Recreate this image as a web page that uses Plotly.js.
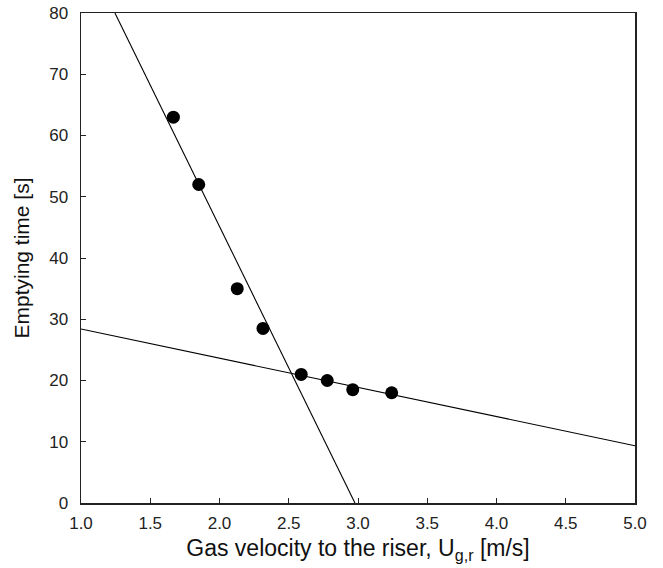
<!DOCTYPE html>
<html>
<head>
<meta charset="utf-8">
<script src="https://cdn.plot.ly/plotly-3.0.1.min.js"></script>
<style>
  html, body { margin: 0; padding: 0; background: #fff; }
  #chart { width: 663px; height: 568px; }
</style>
</head>
<body>
<div id="chart"></div>
<script>
// Measured emptying times versus gas velocity to the riser
const gasVelocity = [1.667, 1.85, 2.128, 2.314, 2.59, 2.778, 2.962, 3.243];
const emptyingTime = [63, 52, 35, 28.5, 21, 20, 18.5, 18];

// Two linear regimes: steep low-velocity fit and shallow high-velocity fit
const steepFitX = [1.245, 2.978];
const steepFitY = [80, 0];
const shallowFitX = [1.0, 5.0];
const shallowFitY = [28.4, 9.35];

const xTicks = [1.0, 1.5, 2.0, 2.5, 3.0, 3.5, 4.0, 4.5, 5.0];
const yTicks = [0, 10, 20, 30, 40, 50, 60, 70, 80];

const FONT = 'Liberation Sans, Arial, sans-serif';
const lineStyle = { color: '#000', width: 1.1 };

const traces = [
  { x: steepFitX, y: steepFitY, mode: 'lines', line: lineStyle, hoverinfo: 'skip' },
  { x: shallowFitX, y: shallowFitY, mode: 'lines', line: lineStyle, hoverinfo: 'skip' },
  {
    x: gasVelocity, y: emptyingTime, mode: 'markers',
    marker: { color: '#000', size: 13, symbol: 'circle' }
  }
];

const axisCommon = {
  showgrid: false, zeroline: false,
  showline: true, mirror: true, linecolor: '#222', linewidth: 1.5,
  ticks: 'inside', ticklen: 5, tickwidth: 1, tickcolor: '#222',
  tickfont: { family: FONT, size: 17, color: '#222' }
};

const layout = {
  width: 663, height: 568,
  margin: { l: 81, r: 28, t: 13, b: 65 },
  paper_bgcolor: '#fff', plot_bgcolor: '#fff',
  showlegend: false,
  xaxis: Object.assign({}, axisCommon, {
    range: [1.0, 5.0],
    tickvals: xTicks,
    ticktext: xTicks.map(v => v.toFixed(1)),
    ticklabelstandoff: 4,
    title: {
      text: 'Gas velocity to the riser, U<sub>g,r</sub> [m/s]',
      font: { family: FONT, size: 23, color: '#111' },
      standoff: 8
    }
  }),
  yaxis: Object.assign({}, axisCommon, {
    range: [0, 80],
    tickvals: yTicks,
    ticklabelstandoff: 8,
    title: {
      text: 'Emptying time [s]',
      font: { family: FONT, size: 21, color: '#111' },
      standoff: 14
    }
  })
};

Plotly.newPlot('chart', traces, layout, { displayModeBar: false, staticPlot: true });
</script>
</body>
</html>
